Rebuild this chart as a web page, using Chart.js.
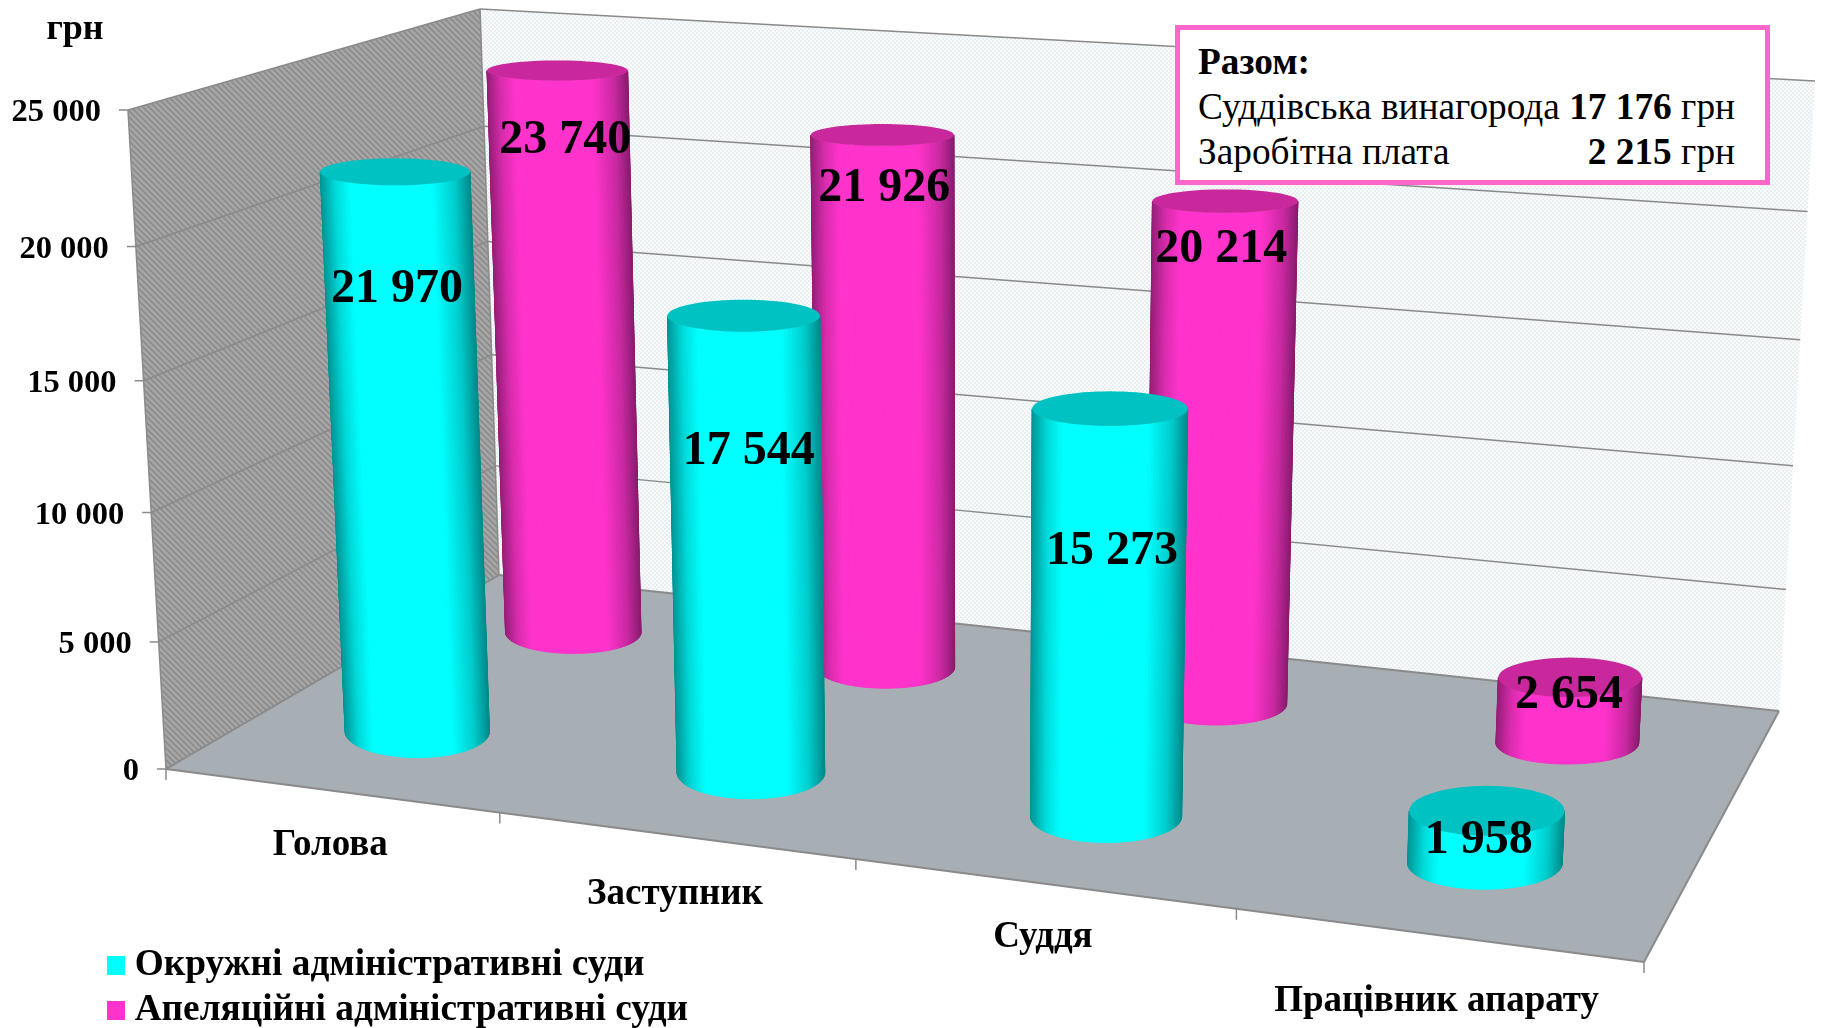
<!DOCTYPE html>
<html>
<head>
<meta charset="utf-8">
<script src="https://cdn.jsdelivr.net/npm/chart.js@4"></script>
<style>
  html, body { margin: 0; background: #fff; }
  #wrap { position: relative; width: 1822px; height: 1028px; overflow: hidden; }
  #total {
    position: absolute; left: 1175px; top: 25px; width: 585px; height: 150px;
    border: 5px solid #ff66cc; background: #fff;
    font: 37.3px "Liberation Serif", serif; color: #000; line-height: 45px;
  }
  #total div { position: absolute; left: 18px; right: 30px; white-space: pre; }
  #total span { position: absolute; right: 0; top: 0; }
</style>
</head>
<body>
<div id="wrap">
  <canvas id="chart" width="1822" height="1037"></canvas>
  <div id="total">
    <div style="top:9px"><b>Разом:</b></div>
    <div style="top:54px">Суддівська винагорода<span><b>17 176</b> грн</span></div>
    <div style="top:99px">Заробітна плата<span><b>2 215</b> грн</span></div>
  </div>
</div>
<script>
const categories = ["Голова", "Заступник", "Суддя", "Працівник апарату"];
const districtCourts = [21970, 17544, 15273, 1958];
const appealCourts = [23740, 21926, 20214, 2654];
const yTicks = [0, 5000, 10000, 15000, 20000, 25000];

const SERIF = '"Liberation Serif", serif';

// floor corners of the 3d box: [front left, front right, back right, back left]
const floorQuad = [[166, 769], [1644, 962], [1779, 711], [499, 575]];
// wall height on screen at those corners
const wallHeight = [659, 742, 630, 566];
// the verticals of the picture all lean away from this point
const VANISH = [975, 14790];

function homography(q) {
  const [[x0, y0], [x1, y1], [x2, y2], [x3, y3]] = q;
  const dx1 = x1 - x2, dx2 = x3 - x2, sx = x0 - x1 + x2 - x3;
  const dy1 = y1 - y2, dy2 = y3 - y2, sy = y0 - y1 + y2 - y3;
  const den = dx1 * dy2 - dx2 * dy1;
  const g = (sx * dy2 - dx2 * sy) / den;
  const h = (dx1 * sy - sx * dy1) / den;
  const a = x1 - x0 + g * x1, b = x3 - x0 + h * x3;
  const d = y1 - y0 + g * y1, e = y3 - y0 + h * y3;
  return (u, v) => {
    const k = g * u + h * v + 1;
    return [(a * u + b * v + x0) / k, (d * u + e * v + y0) / k];
  };
}
const floorAt = homography(floorQuad);

// u across the categories, v front to back, w up the value axis (all 0..1)
function project(u, v, w) {
  const uu = u + 0.0125 * u * (1 - u);
  const ww = w - 0.045 * w * (1 - w);
  const [x, y] = floorAt(uu, v);
  const [a, b, c, d] = wallHeight;
  const h = ((a * (1 - uu) + b * uu) * (1 - v) + (d * (1 - uu) + c * uu) * v) * ww;
  return [x - ((VANISH[0] - x) * h) / (VANISH[1] - y), y - h];
}

function tile(size, paint) {
  const c = document.createElement("canvas");
  c.width = c.height = size;
  paint(c.getContext("2d"));
  return c;
}
const sideTile = tile(6, (g) => {
  g.fillStyle = "#a6a6a6";
  g.fillRect(0, 0, 6, 6);
  g.strokeStyle = "#8c8c8c";
  g.lineWidth = 1.6;
  g.beginPath();
  g.moveTo(-3, -3); g.lineTo(9, 9);
  g.moveTo(-3, 3); g.lineTo(3, 9);
  g.moveTo(3, -3); g.lineTo(9, 3);
  g.stroke();
});
const backTile = tile(4, (g) => {
  g.fillStyle = "#fbfcfc";
  g.fillRect(0, 0, 4, 4);
  g.fillStyle = "#e8eef2";
  g.fillRect(0, 0, 2, 2);
  g.fillRect(2, 2, 2, 2);
});

function swatch(color) {
  return tile(19, (g) => {
    g.fillStyle = color;
    g.fillRect(0, 0, 19, 19);
  });
}

function poly(ctx, pts) {
  ctx.beginPath();
  pts.forEach((p, i) => (i ? ctx.lineTo(p[0], p[1]) : ctx.moveTo(p[0], p[1])));
  ctx.closePath();
}

function line(ctx, a, b) {
  ctx.beginPath();
  ctx.moveTo(a[0], a[1]);
  ctx.lineTo(b[0], b[1]);
  ctx.stroke();
}

function valueToW(chart, value) {
  const s = chart.scales.y;
  return (s.bottom - s.getPixelForValue(value)) / (s.bottom - s.top);
}
function categoryToU(chart, i) {
  const s = chart.scales.x;
  return (s.getPixelForValue(i) - s.left) / (s.right - s.left);
}
// cylinders stand a touch left of the middle of their category, and a touch under the gridline
function barU(chart, i) {
  const u = categoryToU(chart, i);
  return u - 0.004 * (1 - u);
}
function barW(chart, value) {
  return valueToW(chart, value) * 0.994;
}

// brightness across the visible side of a cylinder, left to right
const shadeStops = [[0, 0.58], [0.1, 0.85], [0.2, 1], [0.75, 1], [0.9, 0.8], [1, 0.55]];
function shade(rgb, t) {
  let i = 0;
  while (i < shadeStops.length - 2 && t > shadeStops[i + 1][0]) i++;
  const [t0, b0] = shadeStops[i], [t1, b1] = shadeStops[i + 1];
  const b = b0 + ((b1 - b0) * (t - t0)) / (t1 - t0);
  return `rgb(${rgb.map((c) => Math.round(c * b)).join(",")})`;
}

const SLICES = 72;

// level ellipse of a cylinder at height h; it flattens as it rises towards eye level
function ellipseAt(u, v, h, ry0) {
  const c = project(u, v, h);
  const ru = 0.057 - 0.0085 * u;
  const rx = (project(u + ru, v, h)[0] - project(u - ru, v, h)[0]) / 2;
  const ry = ry0 * (1 - 0.55 * h);
  return (a) => [c[0] + rx * Math.cos(a), c[1] - ry * Math.sin(a)];
}

function drawCylinder(ctx, u, st, w) {
  const low = ellipseAt(u, st.v, 0, st.ry0), high = ellipseAt(u, st.v, w, st.ry0);
  ctx.lineWidth = 1;
  for (let i = 0; i < SLICES; i++) {
    const a0 = Math.PI + (Math.PI * i) / SLICES;
    const a1 = Math.PI + (Math.PI * (i + 1)) / SLICES;
    const col = shade(st.body, (1 + Math.cos((a0 + a1) / 2)) / 2);
    ctx.fillStyle = col;
    ctx.strokeStyle = col;
    poly(ctx, [low(a0), low(a1), high(a1), high(a0)]);
    ctx.fill();
    ctx.stroke();
  }
  const rim = [];
  for (let i = 0; i < SLICES; i++) rim.push(high((2 * Math.PI * i) / SLICES));
  ctx.fillStyle = st.cap;
  poly(ctx, rim);
  ctx.fill();
}

const seriesStyle = [
  { v: 0.26, ry0: 26, body: [0, 255, 255], cap: "#00c2c2" },
  { v: 0.76, ry0: 21, body: [255, 51, 204], cap: "#c8289c" },
];

const box3d = {
  id: "box3d",
  beforeDatasetsDraw(chart) {
    const ctx = chart.ctx;
    ctx.save();
    const fl = project(0, 0, 0), fr = project(1, 0, 0), br = project(1, 1, 0), bl = project(0, 1, 0);
    const tf = project(0, 0, 1), tb = project(0, 1, 1), tr = project(1, 1, 1);

    ctx.fillStyle = ctx.createPattern(backTile, "repeat");
    poly(ctx, [bl, br, tr, tb]);
    ctx.fill();
    ctx.fillStyle = ctx.createPattern(sideTile, "repeat");
    poly(ctx, [fl, bl, tb, tf]);
    ctx.fill();

    ctx.strokeStyle = "#8a8a8a";
    ctx.lineWidth = 1.5;
    yTicks.forEach((t) => {
      const w = valueToW(chart, t);
      const a = project(0, 0, w), b = project(0, 1, w), c = project(1, 1, w);
      if (t > 0) {
        line(ctx, a, b);
        line(ctx, b, c);
      }
      line(ctx, [a[0] - 9, a[1]], a);
    });
    line(ctx, fl, tf);
    line(ctx, tb, bl);

    ctx.fillStyle = "#a7aeb4";
    poly(ctx, [fl, fr, br, bl]);
    ctx.fill();
    ctx.lineWidth = 2;
    line(ctx, fl, fr);
    line(ctx, fr, br);
    line(ctx, fl, bl);
    line(ctx, bl, br);

    ctx.lineWidth = 1.5;
    for (let i = 0; i <= categories.length; i++) {
      const p = project(i / categories.length, 0, 0);
      line(ctx, p, [p[0], p[1] + 11]);
    }

    ctx.fillStyle = "#000";
    ctx.font = `bold 32.5px ${SERIF}`;
    ctx.textAlign = "right";
    ctx.textBaseline = "middle";
    yTicks.forEach((t) => {
      const p = project(0, 0, valueToW(chart, t));
      ctx.fillText(t ? t.toLocaleString("en-US").replace(",", " ") : "0", p[0] - 27, p[1] + 3);
    });
    ctx.textAlign = "center";
    ctx.font = `bold 36px ${SERIF}`;
    ctx.fillText("грн", 75, 30);

    // category names sit under the front edge of the floor
    const nameDrop = [55, 59, 54, 67];
    ctx.font = `bold 37px ${SERIF}`;
    categories.forEach((name, i) => {
      const p = project(categoryToU(chart, i), 0, 0);
      ctx.fillText(name, p[0], p[1] + nameDrop[i]);
    });
    ctx.restore();
  },
  beforeDatasetDraw(chart, args) {
    const st = seriesStyle[args.index];
    const data = chart.data.datasets[args.index].data;
    const ctx = chart.ctx;
    ctx.save();
    data.forEach((value, i) => {
      drawCylinder(ctx, barU(chart, i), st, barW(chart, value));
    });
    ctx.restore();
    return false;
  },
  afterDatasetsDraw(chart) {
    const ctx = chart.ctx;
    // where each value label sits, relative to the centre of its cylinder's top
    const labelShift = [
      [[2, 118], [5, 136], [2, 143], [-8, 30]],
      [[8, 70], [2, 54], [-4, 48], [-1, 18]],
    ];
    ctx.save();
    ctx.fillStyle = "#000";
    ctx.font = `bold 48px ${SERIF}`;
    ctx.textAlign = "center";
    ctx.textBaseline = "middle";
    chart.data.datasets.forEach((ds, d) => {
      ds.data.forEach((value, i) => {
        const p = project(barU(chart, i), seriesStyle[d].v, barW(chart, value));
        const text = value.toLocaleString("en-US").replace(",", " ");
        ctx.fillText(text, p[0] + labelShift[d][i][0], p[1] + labelShift[d][i][1]);
      });
    });
    ctx.restore();
  },
};

new Chart(document.getElementById("chart"), {
  type: "bar",
  data: {
    labels: categories,
    datasets: [
      { label: "Окружні адміністративні суди", data: districtCourts, backgroundColor: "#00ffff" },
      { label: "Апеляційні адміністративні суди", data: appealCourts, backgroundColor: "#ff33cc" },
    ],
  },
  options: {
    responsive: false,
    animation: false,
    layout: { padding: { left: 107, bottom: 0 } },
    scales: {
      x: { display: false },
      y: { display: false, min: 0, max: 25000 },
    },
    plugins: {
      tooltip: { enabled: false },
      legend: {
        position: "left",
        align: "end",
        labels: {
          usePointStyle: true,
          pointStyleWidth: 1,
          boxHeight: 19,
          padding: 8,
          color: "#000",
          font: { family: SERIF, size: 37.3, weight: "bold", lineHeight: 1 },
          generateLabels: (chart) =>
            chart.data.datasets.map((ds, i) => ({
              text: ds.label,
              fillStyle: ds.backgroundColor,
              pointStyle: swatch(ds.backgroundColor),
              datasetIndex: i,
              hidden: false,
              lineWidth: 0,
              fontColor: "#000",
            })),
        },
      },
    },
  },
  plugins: [box3d],
});
</script>
</body>
</html>
